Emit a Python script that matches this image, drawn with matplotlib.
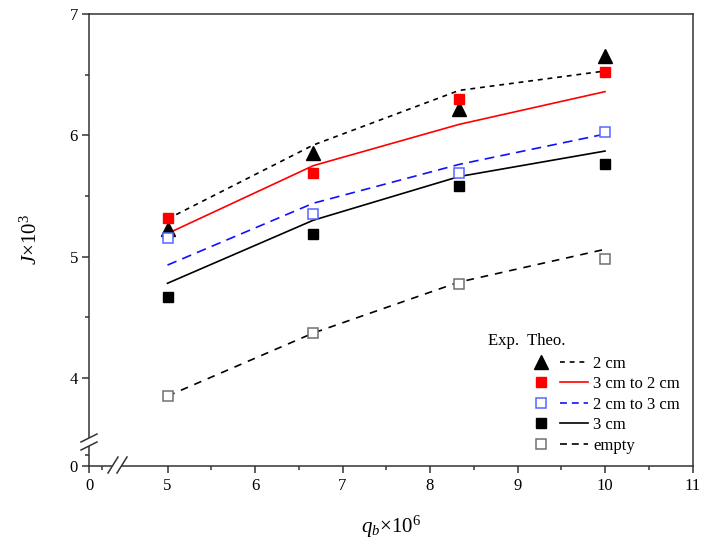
import numpy as np
import matplotlib
matplotlib.use('Agg')
import matplotlib.pyplot as plt
from matplotlib.lines import Line2D
from matplotlib.legend_handler import HandlerTuple
from matplotlib.patches import Polygon

plt.rcParams['font.family'] = ['Liberation Serif', 'DejaVu Serif']
plt.rcParams['mathtext.fontset'] = 'custom'
plt.rcParams['mathtext.rm'] = 'Liberation Serif'
plt.rcParams['mathtext.it'] = 'Liberation Serif:italic'
plt.rcParams['lines.scale_dashes'] = False

# data
q_b = [5, 6.667, 8.333, 10]

exp_2cm = [5.23, 5.85, 6.22, 6.65]
exp_3to2 = [5.32, 5.69, 6.30, 6.52]
exp_2to3 = [5.15, 5.35, 5.69, 6.03]
exp_3cm = [4.67, 5.19, 5.58, 5.76]
exp_empty = [3.85, 4.37, 4.77, 4.98]

theo_2cm = [5.31, 5.92, 6.37, 6.53]
theo_3to2 = [5.19, 5.75, 6.09, 6.36]
theo_2to3 = [4.93, 5.44, 5.76, 6.01]
theo_3cm = [4.78, 5.30, 5.66, 5.87]
theo_empty = [3.85, 4.37, 4.79, 5.06]

labels = ['2 cm', '3 cm to 2 cm', '2 cm to 3 cm', '3 cm', 'empty']

x_major = [0, 5, 6, 7, 8, 9, 10, 11]
x_minor = [0.5, 5.5, 6.5, 7.5, 8.5, 9.5, 10.5]
y_major = [0, 4, 5, 6, 7]
y_minor = [0.5, 4.5, 5.5, 6.5]

# broken axes as piecewise linear scales (pixel offsets along each axis)
x_knots = [0, 0.9, 4.6, 11]
x_pix = [0, 23.4, 43.5, 603.5]
y_knots = [0, 0.9, 3.6, 7]
y_pix = [0, 19.8, 39.6, 452]


def fx(v):
    return np.interp(v, x_knots, x_pix)


def fx_inv(v):
    return np.interp(v, x_pix, x_knots)


def fy(v):
    return np.interp(v, y_knots, y_pix)


def fy_inv(v):
    return np.interp(v, y_pix, y_knots)


W, H = 706, 551
fig = plt.figure(figsize=(W / 100, H / 100), dpi=100)
ax = fig.add_axes([89 / W, 85 / H, 603.5 / W, 452 / H])
ax.set_xscale('function', functions=(fx, fx_inv))
ax.set_yscale('function', functions=(fy, fy_inv))
ax.set_xlim(0, 11)
ax.set_ylim(0, 7)

ms_sq = 7.5
lw = 1.2

# theory lines
l1, = ax.plot(q_b, theo_2cm, color='black', lw=lw, linestyle=(0, (3.5, 3.5)))
l2, = ax.plot(q_b, theo_3to2, color='#ff0000', lw=lw)
l3, = ax.plot(q_b, theo_2to3, color='#1010ff', lw=lw, linestyle=(0, (7, 4.5)))
l4, = ax.plot(q_b, theo_3cm, color='black', lw=lw)
l5, = ax.plot(q_b, theo_empty, color='black', lw=lw, linestyle=(0, (5.5, 5)))

# experimental points
m1, = ax.plot(q_b, exp_2cm, '^', color='black', ms=10, ls='none')
m2, = ax.plot(q_b, exp_3to2, 's', color='#ff0000', ms=ms_sq, ls='none')
m3, = ax.plot(q_b, exp_2to3, 's', mfc='white', mec='#5566ff', mew=1.1, ms=ms_sq, ls='none')
m4, = ax.plot(q_b, exp_3cm, 's', color='black', ms=ms_sq, ls='none')
m5, = ax.plot(q_b, exp_empty, 's', mfc='white', mec='#707070', mew=1.1, ms=ms_sq, ls='none')

# axes styling
for side in ['left', 'bottom', 'top', 'right']:
    ax.spines[side].set_color('#333333')
    ax.spines[side].set_linewidth(1.1)

ax.set_xticks(x_major)
ax.set_xticks(x_minor, minor=True)
ax.set_yticks(y_major)
ax.set_yticks(y_minor, minor=True)
ax.set_xticklabels([str(v) for v in x_major])
ax.set_yticklabels([str(v) for v in y_major])
ax.tick_params(which='both', direction='out', top=False, right=False,
               color='#333333', width=1.1, labelsize=12)
ax.tick_params(which='major', length=5)
ax.tick_params(which='minor', length=3)
ax.tick_params(axis='x', pad=4)
ax.tick_params(axis='y', pad=3)

ax.set_xlabel(r'$q_b$×10$^6$', fontsize=15, labelpad=14)
ax.set_ylabel(r'$J$×10$^3$', fontsize=15, labelpad=20)


def to_disp(pts):
    return [(x, H - y) for x, y in pts]


def break_mark(pts):
    gap = Polygon([pts[0], pts[1], pts[3], pts[2]], closed=True, transform=None,
                  facecolor='white', edgecolor='none', zorder=5)
    fig.add_artist(gap)
    for a, b in [(pts[0], pts[1]), (pts[2], pts[3])]:
        fig.add_artist(Line2D([a[0], b[0]], [a[1], b[1]], transform=None,
                              color='#333333', lw=1.1, zorder=6))


# x-axis break
break_mark(to_disp([(108, 473), (118, 457), (117, 473), (127, 457)]))
# y-axis break
break_mark(to_disp([(81, 450), (97, 442), (81, 442), (97, 434)]))

# legend
handles = [(Line2D([], [], marker=m.get_marker(), ls='none', ms=m.get_markersize(),
                   mfc=m.get_markerfacecolor(), mec=m.get_markeredgecolor(),
                   mew=m.get_markeredgewidth()),
            Line2D([], [], color=l.get_color(), lw=l.get_linewidth(), ls=l.get_linestyle()))
           for m, l in [(m1, l1), (m2, l2), (m3, l3), (m4, l4), (m5, l5)]]
handles[0][1].set_linestyle((0, (3.5, 3.5)))
handles[2][1].set_linestyle((0, (5, 3.5)))
handles[4][1].set_linestyle((0, (5, 3.5)))

leg = ax.legend(handles, labels, handler_map={tuple: HandlerTuple(ndivide=None, pad=0.25)},
                loc='upper left', bbox_to_anchor=(0.726, 0.244), frameon=False,
                fontsize=12, borderpad=0, borderaxespad=0, handlelength=3.65,
                handletextpad=0.3, labelspacing=0.27)
ax.text(0.661, 0.277, 'Exp.  Theo.', transform=ax.transAxes, fontsize=12,
        ha='left', va='center')

fig.savefig('out.png', dpi=100)
